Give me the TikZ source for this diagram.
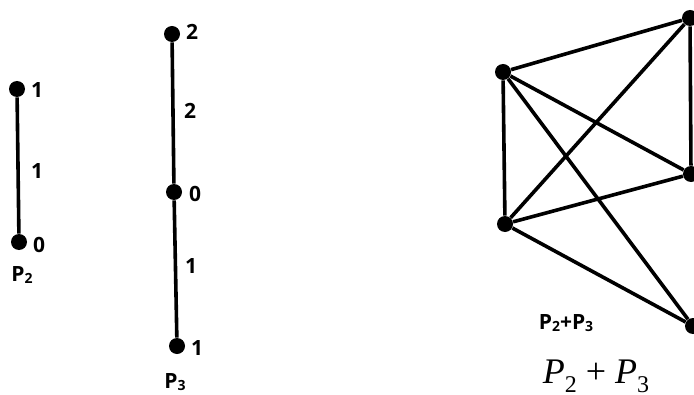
\documentclass[tikz,border=0pt]{standalone}
\usepackage{fontspec}
\newfontfamily\lblfont{Open Sans}
\newfontfamily\mathlbl{Liberation Serif}
\usetikzlibrary{positioning}
\newcommand{\sub}[1]{\raisebox{-0.15ex}{\fontsize{7}{8}\selectfont #1}}
\newcommand{\msub}[1]{\raisebox{-0.55ex}{\fontsize{12}{13}\selectfont #1}}

\begin{document}
\begin{tikzpicture}[x=0.5pt, y=-0.5pt,
    dot/.style={circle, fill, inner sep=0pt, minimum size=8pt},
    lbl/.style={font=\lblfont\bfseries\fontsize{10.5}{12}\selectfont, inner sep=1pt},
    edge/.style={line width=1.8pt}]
  \useasboundingbox (0,0) rectangle (694,395);
  % P_2
  \node[dot] (a1) at (17,89) {};
  \node[dot] (a0) at (19,242) {};
  \draw[edge] (a1) -- (a0);
  \node[lbl] (la1) at (37,90) {1};
  \node[lbl] (la0) at (39,245) {0};
  \node[lbl] (lae) at (37,171) {1};
  \node[lbl] (nP2) at (22,275) {P\sub{2}};
  % P_3
  \node[dot] (b2) at (172,34) {};
  \node[dot] (b0) at (174,192) {};
  \node[dot] (b1) at (177,346) {};
  \draw[edge] (b2) -- (b0) -- (b1);
  \node[lbl] (lb2) at (192,32) {2};
  \node[lbl] (lb0) at (195,194) {0};
  \node[lbl] (lb1) at (197,348) {1};
  \node[lbl] (lbe2) at (190,111) {2};
  \node[lbl] (lbe1) at (191,266) {1};
  \node[lbl] (nP3) at (175,382) {P\sub{3}};
  % P_2 + P_3
  \node[dot] (u1) at (503,72) {};
  \node[dot] (u0) at (505,224) {};
  \node[dot] (v2) at (690,18) {};
  \node[dot] (v0) at (691,174) {};
  \node[dot] (v1) at (693,326) {};
  \draw[edge] (u1) -- (u0);
  \draw[edge] (v2) -- (v0);
  \foreach \u in {u1,u0}
    \foreach \v in {v2,v0,v1}
      \draw[edge] (\u) -- (\v);
  \node[lbl] (nsum) at (566,323) {P\sub{2}+P\sub{3}};
  \node[font=\mathlbl\fontsize{18}{20}\selectfont] (msum) at (596,376)
    {\textit{P}\msub{2} + \textit{P}\msub{3}};
\end{tikzpicture}
\end{document}
